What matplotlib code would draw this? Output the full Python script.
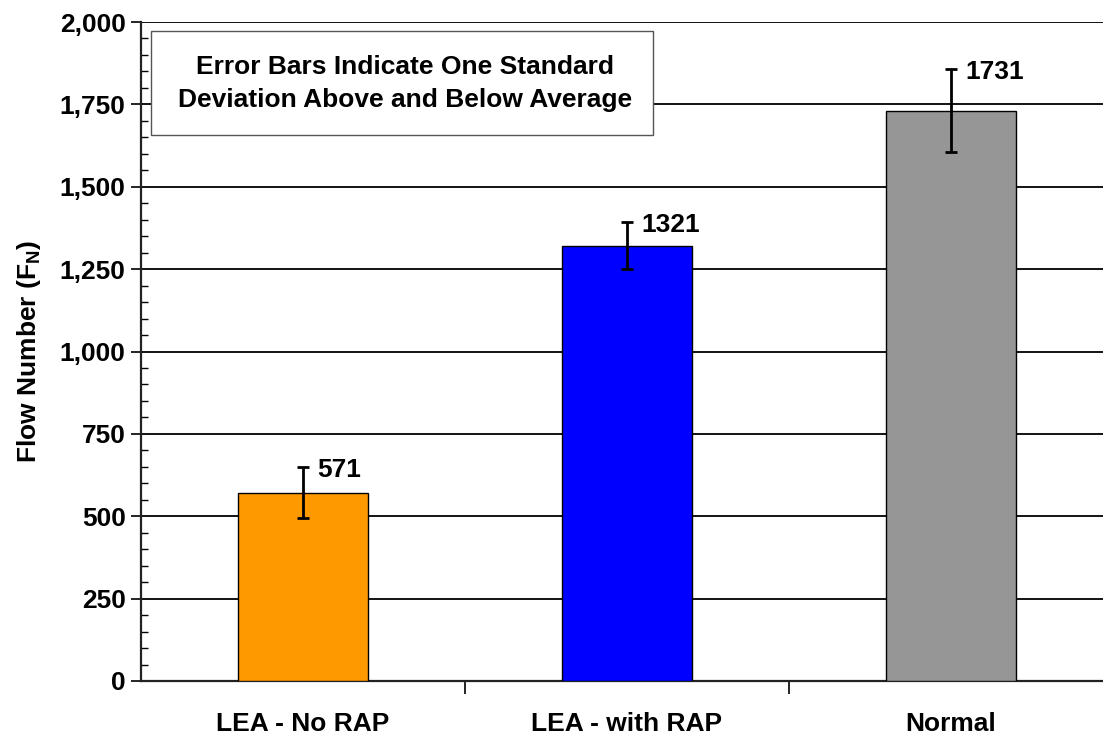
import matplotlib
matplotlib.use("Agg")
import matplotlib.pyplot as plt
from matplotlib.patches import Rectangle
from matplotlib.ticker import MultipleLocator, FuncFormatter

plt.rcParams["font.family"] = ["Liberation Sans", "DejaVu Sans"]
plt.rcParams["font.weight"] = "bold"
plt.rcParams["mathtext.fontset"] = "custom"
plt.rcParams["mathtext.rm"] = "Liberation Sans:bold"
plt.rcParams["mathtext.bf"] = "Liberation Sans:bold"

categories = ["LEA - No RAP", "LEA - with RAP", "Normal"]
means = [571, 1321, 1731]
stdevs = [77, 72, 125]
colors = ["#FF9900", "#0000FF", "#969696"]

FS = 19

fig = plt.figure(figsize=(11.03, 7.36), dpi=100)
ax = fig.add_axes([141 / 1103, 55 / 736, 972 / 1103, 659 / 736])

x = range(len(categories))
ax.bar(x, means, width=0.4, color=colors, edgecolor="black", linewidth=1.0, zorder=3)
ax.errorbar(x, means, yerr=stdevs, fmt="none", ecolor="black", elinewidth=2.0,
            capsize=4.5, capthick=2.0, zorder=4)
for xi, m, s in zip(x, means, stdevs):
    ax.annotate(f"{m}", (xi, m + s), xytext=(10, -2), textcoords="offset points",
                ha="left", va="center", fontsize=FS, fontweight="bold")

ax.set_xlim(-0.5, 2.5)
ax.set_ylim(0, 2000)
ax.yaxis.set_major_locator(MultipleLocator(250))
ax.yaxis.set_minor_locator(MultipleLocator(50))
ax.yaxis.set_major_formatter(FuncFormatter(lambda v, p: f"{int(v):,}"))
ax.grid(axis="y", which="major", color="black", linewidth=1.3, zorder=0)

ax.set_xticks(list(x))
ax.set_xticklabels(categories, fontsize=FS, fontweight="bold")
ax.set_xticks([0.5, 1.5], minor=True)
ax.tick_params(axis="x", which="major", length=0, pad=22)
ax.tick_params(axis="x", which="minor", length=9, width=1.2, direction="out")
ax.tick_params(axis="y", which="major", length=7, width=1.2, direction="out",
               labelsize=FS, pad=4)
ax.tick_params(axis="y", which="minor", length=5, width=1.0, direction="in")
for lab in ax.get_yticklabels():
    lab.set_fontweight("bold")

for side in ("top", "right"):
    ax.spines[side].set_visible(False)
for side in ("left", "bottom"):
    ax.spines[side].set_linewidth(1.6)
    ax.spines[side].set_color("#222222")

ax.set_ylabel(r"Flow Number (F$_{\mathbf{N}}$)", fontsize=FS, fontweight="bold", labelpad=12)

# note box in the upper-left corner, covering the gridlines
ax.add_patch(Rectangle((0.0103, 0.8285), 0.5165, 0.1575, transform=ax.transAxes,
                       facecolor="white", edgecolor="#555555", linewidth=1.0, zorder=5))
ax.text(0.2716, 0.907, "Error Bars Indicate One Standard\nDeviation Above and Below Average",
        transform=ax.transAxes, ha="center", va="center", fontsize=FS,
        fontweight="bold", linespacing=1.48, zorder=6)

fig.savefig("out.png", dpi=100)
